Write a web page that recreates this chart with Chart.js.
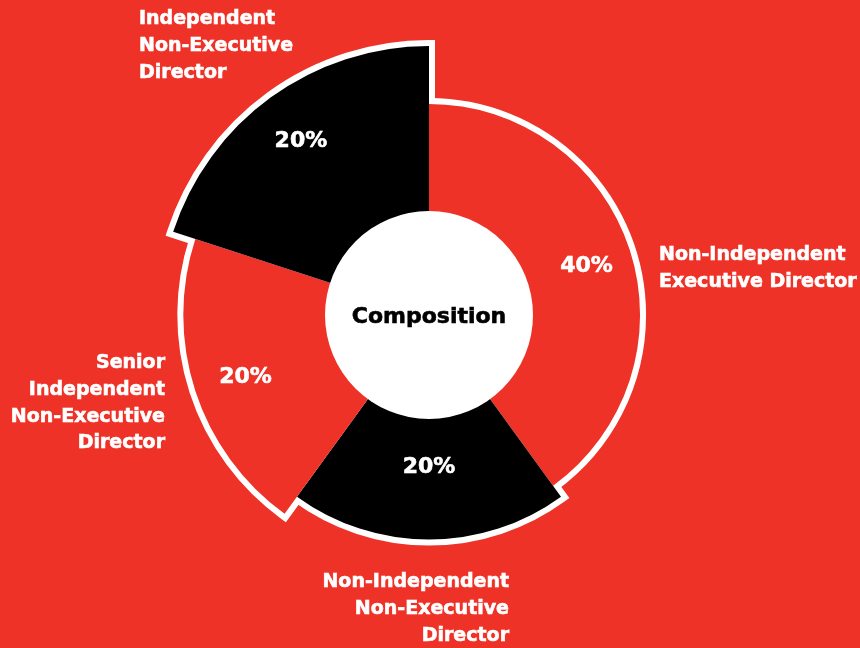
<!DOCTYPE html>
<html>
<head>
<meta charset="utf-8">
<script src="https://cdn.jsdelivr.net/npm/chart.js@4/dist/chart.umd.min.js"></script>
<style>
  html, body { margin: 0; padding: 0; background: #ee3227; }
  #wrap { width: 860px; height: 648px; }
</style>
</head>
<body>
<div id="wrap"><canvas id="board" width="860" height="648"></canvas></div>
<script>
// ===== Data =====
const categories = [
    ['Non-Independent', 'Executive Director'],
    ['Non-Independent', 'Non-Executive', 'Director'],
    ['Senior', 'Independent', 'Non-Executive', 'Director'],
    ['Independent', 'Non-Executive', 'Director']
];
const shares = [40, 20, 20, 20];          // % of board -> angle of each slice
const reach = [67, 71.3, 78, 85.4];       // outer reach of each slice on the r scale (0-100)
const centerTitle = 'Composition';

// ===== Style =====
const RED = '#ee3227';
const sliceColors = [RED, '#000000', RED, '#000000'];
const pctRadius = [0.785, 0.67, 0.785, 0.81];   // where the % sits along each slice
// outer label anchors: x, first baseline, alignment
const labelLayout = [
    { x: 659, y: 260, align: 'left' },
    { x: 509, y: 587, align: 'right' },
    { x: 165, y: 368, align: 'right' },
    { x: 139, y: 24, align: 'left' }
];
const LINE_H = 26.8;
const FONT = '"DejaVu Sans", sans-serif';

// draw text a touch heavier (the original face is a heavy geometric sans)
function heavyText(ctx, t, x, y) {
    ctx.strokeText(t, x, y);
    ctx.fillText(t, x, y);
}

// white outline drawn behind the slices, so only the outside edge shows
const outlinePlugin = {
    id: 'outline',
    beforeDatasetsDraw(chart) {
        const ctx = chart.ctx;
        const arcs = chart.getDatasetMeta(0).data;
        ctx.save();
        ctx.fillStyle = '#fff';
        ctx.strokeStyle = '#fff';
        ctx.lineWidth = 12;
        ctx.lineJoin = 'miter';
        arcs.forEach(a => {
            const p = a.getProps(['x', 'y', 'startAngle', 'endAngle', 'outerRadius'], true);
            ctx.beginPath();
            ctx.moveTo(p.x, p.y);
            ctx.arc(p.x, p.y, p.outerRadius, p.startAngle, p.endAngle);
            ctx.closePath();
            ctx.stroke();
            ctx.fill();
        });
        ctx.restore();
    },
    afterDatasetsDraw(chart) {
        const ctx = chart.ctx;
        const scale = chart.scales.r;
        const cx = scale.xCenter, cy = scale.yCenter;
        const arcs = chart.getDatasetMeta(0).data;

        ctx.save();
        // center disc
        ctx.fillStyle = '#fff';
        ctx.beginPath();
        ctx.arc(cx, cy, 104, 0, Math.PI * 2);
        ctx.fill();

        ctx.fillStyle = '#000';
        ctx.strokeStyle = '#000';
        ctx.lineWidth = 0.6;
        ctx.font = 'bold 22px ' + FONT;
        ctx.textAlign = 'center';
        ctx.textBaseline = 'alphabetic';
        heavyText(ctx, centerTitle, cx, cy + 8);

        // percentages
        ctx.fillStyle = '#fff';
        ctx.strokeStyle = '#fff';
        ctx.font = 'bold 22px ' + FONT;
        arcs.forEach((a, i) => {
            const p = a.getProps(['startAngle', 'endAngle', 'outerRadius'], true);
            const mid = (p.startAngle + p.endAngle) / 2;
            const r = p.outerRadius * pctRadius[i];
            heavyText(ctx, shares[i] + '%', cx + Math.cos(mid) * r, cy + Math.sin(mid) * r + 8);
        });

        // outer labels
        ctx.font = 'bold 19px ' + FONT;
        categories.forEach((lines, i) => {
            const l = labelLayout[i];
            ctx.textAlign = l.align;
            lines.forEach((t, j) => heavyText(ctx, t, l.x, l.y + j * LINE_H));
        });
        ctx.restore();
    }
};

new Chart(document.getElementById('board'), {
    type: 'polarArea',
    data: {
        labels: categories,
        datasets: [{
            data: reach,
            angle: shares.map(s => s * 3.6),
            backgroundColor: sliceColors,
            borderWidth: 0
        }]
    },
    options: {
        responsive: false,
        animation: false,
        layout: { padding: { left: 0, right: 2, top: 0, bottom: 18 } },
        scales: {
            r: {
                min: 0,
                max: 100,
                startAngle: 0,
                ticks: { display: false },
                grid: { display: false },
                angleLines: { display: false },
                pointLabels: { display: false }
            }
        },
        plugins: {
            legend: { display: false },
            tooltip: { enabled: false }
        }
    },
    plugins: [outlinePlugin]
});
</script>
</body>
</html>
